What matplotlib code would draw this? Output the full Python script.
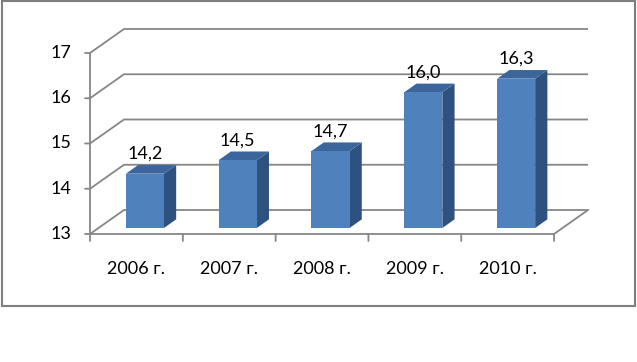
import matplotlib.pyplot as plt
from matplotlib.patches import Polygon, Rectangle

years = ["2006 г.", "2007 г.", "2008 г.", "2009 г.", "2010 г."]
values = [14.2, 14.5, 14.7, 16.0, 16.3]
y_ticks = [13, 14, 15, 16, 17]

# псевдо-3D: смещение задней стенки в единицах данных
DX = 0.366
DY = 0.530
D0, D1 = 0.25, 0.61
BAR_W = 0.41

GRID = "#868686"
FRONT = "#4F81BD"
TOP = "#3C659C"
SIDE = "#2F5180"

plt.rcParams["font.family"] = ["Lato", "DejaVu Sans"]


def pt(px):
    return px * 72 / 100


def proj(x, v, d):
    return x + d * DX, v + d * DY


fig = plt.figure(figsize=(6.37, 3.62), dpi=100)
ax = fig.add_axes([0, 0, 1, 1])
ax.set_xlim(-1.470, 5.394)
ax.set_ylim(10.171, 18.171)
ax.axis("off")

n = len(years)
x_lo, x_hi = -0.5, n - 0.5
base = y_ticks[0]

# сетка: боковая стенка + задняя стенка
for v in y_ticks:
    p0 = proj(x_lo, v, 0)
    p1 = proj(x_lo, v, 1)
    p2 = proj(x_hi, v, 1)
    ax.plot([p0[0], p1[0], p2[0]], [p0[1], p1[1], p2[1]],
            color=GRID, lw=1.3, zorder=1, solid_capstyle="butt")

# пол
f0 = proj(x_lo, base, 0)
f1 = proj(x_hi, base, 0)
f2 = proj(x_hi, base, 1)
ax.plot([f0[0], f1[0], f2[0]], [f0[1], f1[1], f2[1]],
        color=GRID, lw=1.3, zorder=1)

# ось Y
ax.plot([x_lo, x_lo], [base, y_ticks[-1]], color=GRID, lw=1.3, zorder=4)
for v in y_ticks:
    ax.annotate("", xy=(x_lo, v), xytext=(-pt(5), 0),
                textcoords="offset points", xycoords="data",
                arrowprops=dict(arrowstyle="-", color=GRID, lw=1.3,
                                shrinkA=0, shrinkB=0))
    ax.annotate(str(v), xy=(x_lo, v), xytext=(-pt(19), 0),
                textcoords="offset points", ha="right", va="center",
                fontsize=13, color="black")

# ось X: деления и подписи
for i in range(n + 1):
    ax.annotate("", xy=(x_lo + i, base), xytext=(0, -pt(7)),
                textcoords="offset points",
                arrowprops=dict(arrowstyle="-", color=GRID, lw=1.3,
                                shrinkA=0, shrinkB=0))
for i, lab in enumerate(years):
    ax.annotate(lab, xy=(i, base), xytext=(0, -pt(35)),
                textcoords="offset points", ha="center", va="center",
                fontsize=13, color="black")

# столбцы
for i, v in enumerate(values):
    xl = i - BAR_W / 2
    xr = i + BAR_W / 2
    front = [proj(xl, base, D0), proj(xr, base, D0),
             proj(xr, v, D0), proj(xl, v, D0)]
    side = [proj(xr, base, D0), proj(xr, base, D1),
            proj(xr, v, D1), proj(xr, v, D0)]
    top = [proj(xl, v, D0), proj(xr, v, D0),
           proj(xr, v, D1), proj(xl, v, D1)]
    ax.add_patch(Polygon(side, closed=True, facecolor=SIDE,
                         edgecolor="none", zorder=2))
    ax.add_patch(Polygon(top, closed=True, facecolor=TOP,
                         edgecolor="none", zorder=2))
    ax.add_patch(Polygon(front, closed=True, facecolor=FRONT,
                         edgecolor="none", zorder=3))
    lx, ly = proj(i, v, D0)
    _, ly1 = proj(i, v, D1)
    ax.annotate(f"{v:.1f}".replace(".", ","), xy=(lx, ly1),
                xytext=(0, pt(11)), textcoords="offset points",
                ha="center", va="center", fontsize=13, color="black",
                zorder=5)

# рамка диаграммы
fig.patches.append(Rectangle((2 / 637, 56 / 362), 633 / 637, 305 / 362,
                             transform=fig.transFigure, fill=False,
                             edgecolor="#7F7F7F", lw=1.5))

fig.savefig("out.png", dpi=100, facecolor="white")
